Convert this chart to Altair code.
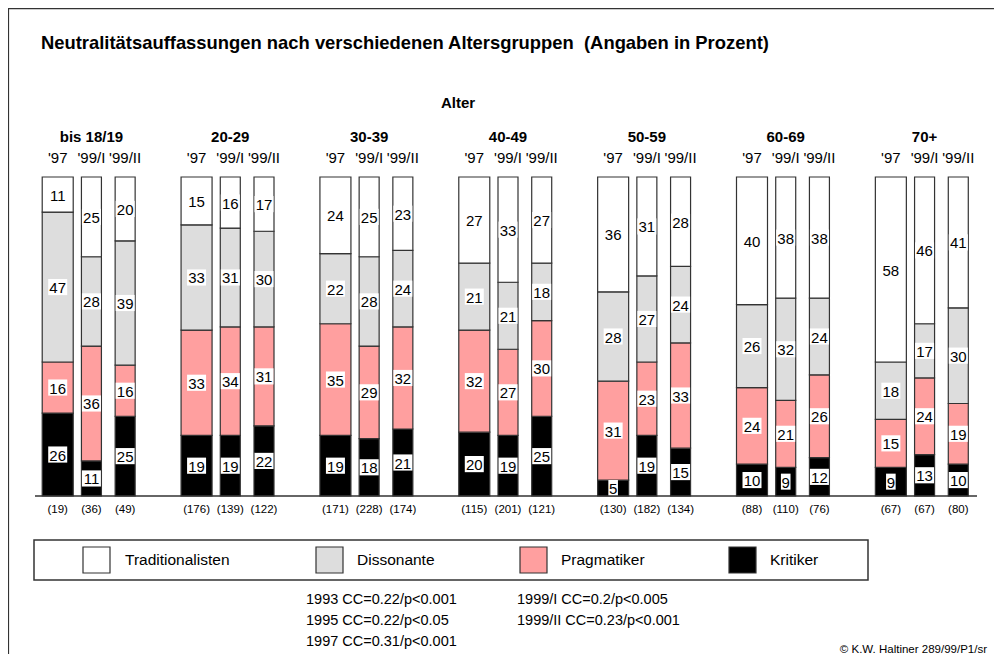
import altair as alt
import pandas as pd

# ---------------- data ----------------
groups = ["bis 18/19", "20-29", "30-39", "40-49", "50-59", "60-69", "70+"]
waves = ["'97", "'99/I", "'99/II"]
categories = ["Traditionalisten", "Dissonante", "Pragmatiker", "Kritiker"]
colors = ["#FFFFFF", "#DDDDDD", "#FF9F9F", "#000000"]

# one value per bar, group by group, wave by wave ('97, '99/I, '99/II)
traditionalisten = [11, 25, 20, 15, 16, 17, 24, 25, 23, 27, 33, 27, 36, 31, 28, 40, 38, 38, 58, 46, 41]
dissonante = [47, 28, 39, 33, 31, 30, 22, 28, 24, 21, 21, 18, 28, 27, 24, 26, 32, 24, 18, 17, 30]
pragmatiker = [16, 36, 16, 33, 34, 31, 35, 29, 32, 32, 27, 30, 31, 23, 33, 24, 21, 26, 15, 24, 19]
kritiker = [26, 11, 25, 19, 19, 22, 19, 18, 21, 20, 19, 25, 5, 19, 15, 10, 9, 12, 9, 13, 10]
counts = [19, 36, 49, 176, 139, 122, 171, 228, 174, 115, 201, 121, 130, 182, 134, 88, 110, 76, 67, 67, 80]

title_text = "Neutralitätsauffassungen nach verschiedenen Altersgruppen\u00a0\u00a0(Angaben in Prozent)"
axis_title = "Alter"
notes_col1 = ["1993 CC=0.22/p<0.001", "1995 CC=0.22/p<0.05", "1997 CC=0.31/p<0.001"]
notes_col2 = ["1999/I CC=0.2/p<0.005", "1999/II CC=0.23/p<0.001"]
copyright_text = "© K.W. Haltiner 289/99/P1/sr"

# ---------------- tables ----------------
series = {"Traditionalisten": traditionalisten, "Dissonante": dissonante,
          "Pragmatiker": pragmatiker, "Kritiker": kritiker}
rows = []
bars = []
for i in range(len(counts)):
    g = groups[i // 3]
    w = waves[i % 3]
    bars.append({"group": g, "wave": w, "n": f"({counts[i]})"})
    base = 0
    for cat in ["Kritiker", "Pragmatiker", "Dissonante", "Traditionalisten"]:
        v = series[cat][i]
        rows.append({"group": g, "wave": w, "cat": cat, "value": v,
                     "y0": base, "y1": base + v, "mid": base + v / 2,
                     "label": str(v), "digits": len(str(v))})
        base += v
df = pd.DataFrame(rows)
dfb = pd.DataFrame(bars)
dfg = pd.DataFrame({"group": groups})
one = pd.DataFrame({"k": [0]})

FONT = "Liberation Sans"
DARK = "#333333"

xenc = alt.X("group:N", scale=alt.Scale(domain=groups, paddingInner=0.2716, paddingOuter=0.1358), axis=None)
xoff = alt.XOffset("wave:N", scale=alt.Scale(domain=waves, paddingInner=0, paddingOuter=0))
yscale = alt.Scale(domain=[0, 100], nice=False, zero=True)
color = alt.Color("cat:N", scale=alt.Scale(domain=categories, range=colors), legend=None)

base = alt.Chart(df)

bars97 = base.transform_filter(alt.FieldEqualPredicate(field="wave", equal="'97")).mark_bar(
    width=31, stroke=DARK, strokeWidth=1.2
).encode(x=xenc, xOffset=xoff, y=alt.Y("y0:Q", scale=yscale, axis=None), y2="y1:Q", color=color)

bars99 = base.transform_filter(alt.FieldOneOfPredicate(field="wave", oneOf=["'99/I", "'99/II"])).mark_bar(
    width=20, stroke=DARK, strokeWidth=1.2
).encode(x=xenc, xOffset=xoff, y=alt.Y("y0:Q", scale=yscale, axis=None), y2="y1:Q", color=color)

box2 = base.transform_filter(alt.FieldEqualPredicate(field="digits", equal=2)).mark_point(
    shape="M-1,-0.85L1,-0.85L1,0.85L-1,0.85Z", size=361, filled=True, color="white", opacity=1, strokeWidth=0
).encode(x=xenc, xOffset=xoff, y=alt.Y("mid:Q", scale=yscale, axis=None))

box1 = base.transform_filter(alt.FieldEqualPredicate(field="digits", equal=1)).mark_point(
    shape="M-0.6,-1L0.6,-1L0.6,1L-0.6,1Z", size=256, filled=True, color="white", opacity=1, strokeWidth=0
).encode(x=xenc, xOffset=xoff, y=alt.Y("mid:Q", scale=yscale, axis=None))

labels = base.mark_text(font=FONT, fontSize=15, color="black", baseline="middle", dy=1).encode(
    x=xenc, xOffset=xoff, y=alt.Y("mid:Q", scale=yscale, axis=None), text="label:N")

baseline = alt.Chart(one).mark_rule(color=DARK, strokeWidth=1.5).encode(
    x=alt.value(13), x2=alt.value(955), y=alt.value(319))

nlabels = alt.Chart(dfb).mark_text(font=FONT, fontSize=11.5, color="black", baseline="middle").encode(
    x=xenc, xOffset=xoff, y=alt.value(333), text="n:N")

wave_labels = alt.Chart(dfb).mark_text(font=FONT, fontSize=15, color="black", baseline="middle").encode(
    x=xenc, xOffset=xoff, y=alt.value(-19), text="wave:N")

group_labels = alt.Chart(dfg).mark_text(font=FONT, fontSize=15, fontWeight="bold", color="black",
                                        baseline="middle").encode(
    x=xenc, y=alt.value(-40), text="group:N")

title = alt.Chart(one).mark_text(font=FONT, fontSize=18.4, fontWeight="bold", align="left",
                                 baseline="middle", color="black").encode(
    x=alt.value(19), y=alt.value(-134), text=alt.value(title_text))

alter = alt.Chart(one).mark_text(font=FONT, fontSize=15, fontWeight="bold", baseline="middle",
                                 color="black").encode(
    x=alt.value(436), y=alt.value(-74), text=alt.value(axis_title))

frame_v = alt.Chart(one).mark_rule(color=DARK, strokeWidth=1.2).encode(
    x=alt.value(-13.5), y=alt.value(-169), y2=alt.value(477))
frame_h = alt.Chart(one).mark_rule(color=DARK, strokeWidth=1.2).encode(
    x=alt.value(-14), x2=alt.value(972), y=alt.value(-168.4))

legend_box = alt.Chart(one).mark_rect(fill="white", stroke=DARK, strokeWidth=1.5).encode(
    x=alt.value(12), x2=alt.value(846), y=alt.value(363), y2=alt.value(403))

swatch_x = [61, 294, 498, 707]
text_x = [103, 335, 539, 748]
legend_layers = []
for cat, col, sx, tx in zip(categories, colors, swatch_x, text_x):
    legend_layers.append(alt.Chart(one).mark_rect(fill=col, stroke=DARK, strokeWidth=1.2).encode(
        x=alt.value(sx), x2=alt.value(sx + 27), y=alt.value(370), y2=alt.value(396)))
    legend_layers.append(alt.Chart(one).mark_text(font=FONT, fontSize=15.5, align="left",
                                                  baseline="middle", color="black").encode(
        x=alt.value(tx), y=alt.value(383), text=alt.value(cat)))

note_layers = []
for j, t in enumerate(notes_col1):
    note_layers.append(alt.Chart(one).mark_text(font=FONT, fontSize=14.5, align="left",
                                                baseline="middle", color="black").encode(
        x=alt.value(284), y=alt.value(423 + 21 * j), text=alt.value(t)))
for j, t in enumerate(notes_col2):
    note_layers.append(alt.Chart(one).mark_text(font=FONT, fontSize=14.5, align="left",
                                                baseline="middle", color="black").encode(
        x=alt.value(495), y=alt.value(423 + 21 * j), text=alt.value(t)))

copyright = alt.Chart(one).mark_text(font=FONT, fontSize=11.5, align="right", baseline="middle",
                                     color="black").encode(
    x=alt.value(965), y=alt.value(473), text=alt.value(copyright_text))

chart = alt.layer(
    frame_v, frame_h, title, alter, group_labels, wave_labels,
    bars97, bars99, box2, box1, labels, baseline, nlabels,
    legend_box, *legend_layers, *note_layers, copyright
).properties(
    width=972, height=319,
    autosize=alt.AutoSizeParams(type="none"),
    padding={"left": 14, "top": 169, "right": 0, "bottom": 158},
).configure_view(strokeWidth=0)

chart.save("out.html", embed_options={"renderer": "svg", "actions": False})
